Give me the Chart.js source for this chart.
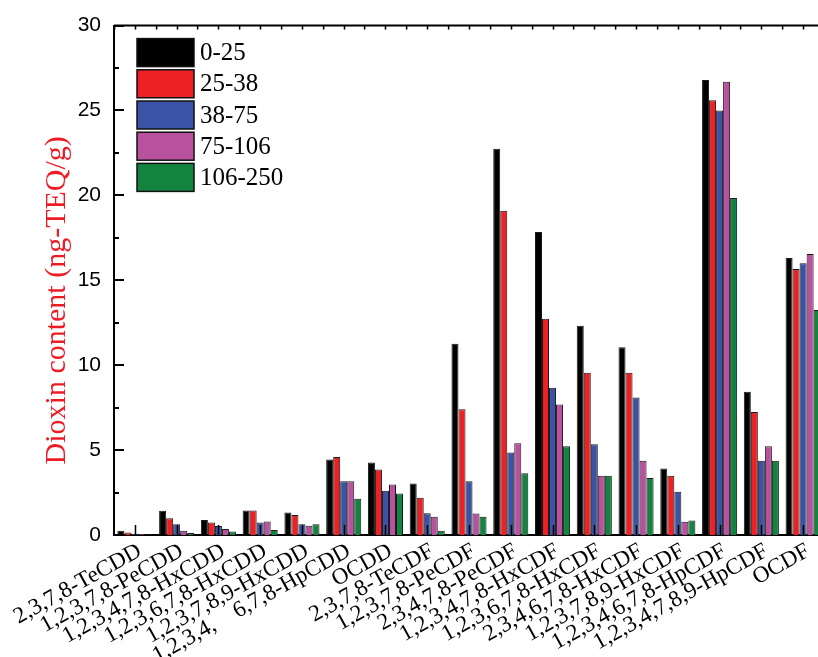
<!DOCTYPE html>
<html>
<head>
<meta charset="utf-8">
<script src="https://cdn.jsdelivr.net/npm/chart.js@4.4.1/dist/chart.umd.min.js"></script>
<style>
    html, body { margin: 0; padding: 0; background: #fff; overflow: hidden; }
    .chart-wrap { position: relative; width: 826px; height: 657px; }
</style>
</head>
<body>
<div class="chart-wrap"><canvas id="dioxinChart"></canvas></div>
<script>
// congeners on the x axis
const congeners = [
    '2,3,7,8-TeCDD', '1,2,3,7,8-PeCDD', '1,2,3,4,7,8-HxCDD', '1,2,3,6,7,8-HxCDD',
    '1,2,3,7,8,9-HxCDD', '1,2,3,4,    6,7,8-HpCDD', 'OCDD', '2,3,7,8-TeCDF',
    '1,2,3,7,8-PeCDF', '2,3,4,7,8-PeCDF', '1,2,3,4,7,8-HxCDF', '1,2,3,6,7,8-HxCDF',
    '2,3,4,6,7,8-HxCDF', '1,2,3,7,8,9-HxCDF', '1,2,3,4,6,7,8-HpCDF', '1,2,3,4,7,8,9-HpCDF',
    'OCDF'
];

// particle size ranges (legend)
const sizeRanges = ['0-25', '25-38', '38-75', '75-106', '106-250'];

// dioxin content, ng-TEQ/g, one array per size range
const range0to25    = [0.25, 1.43, 0.88, 1.45, 1.33, 4.45, 4.27, 3.04, 11.27, 22.75, 17.84, 12.33, 11.06, 3.92, 26.8, 8.43, 16.31];
const range25to38   = [0.15, 0.98, 0.73, 1.45, 1.18, 4.59, 3.86, 2.2, 7.41, 19.1, 12.73, 9.55, 9.55, 3.49, 25.6, 7.25, 15.67];
const range38to75   = [0.08, 0.63, 0.53, 0.73, 0.63, 3.16, 2.61, 1.28, 3.16, 4.86, 8.67, 5.35, 8.1, 2.55, 25.0, 4.37, 16.0];
const range75to106  = [0.06, 0.25, 0.35, 0.8, 0.55, 3.16, 2.98, 1.08, 1.27, 5.41, 7.69, 3.49, 4.37, 0.78, 26.7, 5.22, 16.55];
const range106to250 = [0.03, 0.12, 0.2, 0.3, 0.63, 2.14, 2.45, 0.25, 1.08, 3.63, 5.22, 3.49, 3.35, 0.86, 19.84, 4.37, 13.25];

const yTicks = [0, 5, 10, 15, 20, 25, 30];
const yTitle = 'Dioxin content (ng-TEQ/g)';

const seriesValues = [range0to25, range25to38, range38to75, range75to106, range106to250];
const barColors = ['#000000', '#ed2024', '#3a53a4', '#b8519e', '#13843f'];

const serif = '"Liberation Serif", "Times New Roman", serif';

// axis frame: top line plus inward tick marks like the origin-style plot
const frameTicks = {
    id: 'frameTicks',
    afterDatasetsDraw(chart) {
        const { ctx, chartArea } = chart;
        const x = chart.scales.x;
        const y = chart.scales.y;
        ctx.save();
        ctx.strokeStyle = '#000';
        ctx.lineWidth = 2;
        ctx.beginPath();
        ctx.moveTo(chartArea.left, chartArea.top);
        ctx.lineTo(chartArea.right, chartArea.top);
        ctx.stroke();

        // y major / minor
        for (let v = 0; v <= 30; v += 2.5) {
            const py = Math.round(y.getPixelForValue(v));
            const len = v % 5 === 0 ? 10 : 5;
            ctx.beginPath();
            ctx.moveTo(chartArea.left, py);
            ctx.lineTo(chartArea.left + len, py);
            ctx.stroke();
        }

        // bottom ticks at category centres, top ticks at centres and boundaries
        const half = (x.getPixelForValue(1) - x.getPixelForValue(0)) / 2;
        ctx.lineWidth = 1.5;
        congeners.forEach((c, i) => {
            const px = Math.round(x.getPixelForValue(i)) + 0.5;
            ctx.beginPath();
            ctx.moveTo(px, chartArea.bottom);
            ctx.lineTo(px, chartArea.bottom - 10);
            ctx.stroke();
            [px, px - half].forEach(tx => {
                ctx.beginPath();
                ctx.moveTo(tx, chartArea.top);
                ctx.lineTo(tx, chartArea.top + 4);
                ctx.stroke();
            });
        });
        ctx.restore();
    }
};

// slanted category labels and the red y title, placed by hand
const axisText = {
    id: 'axisText',
    afterDraw(chart) {
        const { ctx, chartArea } = chart;
        const x = chart.scales.x;
        ctx.save();
        ctx.fillStyle = '#000';
        ctx.font = '23px ' + serif;
        ctx.textAlign = 'right';
        ctx.textBaseline = 'alphabetic';
        congeners.forEach((label, i) => {
            ctx.save();
            ctx.translate(x.getPixelForValue(i) + 8, chartArea.bottom + 20);
            ctx.rotate(-29 * Math.PI / 180);
            ctx.fillText(label, 0, 0);
            ctx.restore();
        });

        ctx.fillStyle = '#ed1c24';
        ctx.font = '30px ' + serif;
        ctx.textAlign = 'center';
        ctx.translate(65, (chartArea.top + chartArea.bottom) / 2 + 20);
        ctx.rotate(-Math.PI / 2);
        ctx.fillText(yTitle, 0, 0);
        ctx.restore();
    }
};

// legend boxes inside the plot, top left
const insideLegend = {
    id: 'insideLegend',
    afterDraw(chart) {
        const { ctx, chartArea } = chart;
        const bx = chartArea.left + 23;
        let by = chartArea.top + 13;
        ctx.save();
        ctx.font = '25px ' + serif;
        ctx.textBaseline = 'middle';
        chart.data.datasets.forEach(ds => {
            ctx.fillStyle = ds.backgroundColor;
            ctx.fillRect(bx, by, 57, 28);
            ctx.strokeStyle = '#111';
            ctx.lineWidth = 1.5;
            ctx.strokeRect(bx, by, 57, 28);
            ctx.fillStyle = '#000';
            ctx.fillText(ds.label, bx + 63, by + 15);
            by += 31.2;
        });
        ctx.restore();
    }
};

const datasets = sizeRanges.map((name, i) => ({
    label: name,
    data: seriesValues[i],
    backgroundColor: barColors[i],
    borderColor: '#1a1a1a',
    borderWidth: 1,
    categoryPercentage: 0.84,
    barPercentage: 1.0
}));

new Chart(document.getElementById('dioxinChart'), {
    type: 'bar',
    data: { labels: congeners, datasets: datasets },
    options: {
        responsive: true,
        maintainAspectRatio: false,
        animation: false,
        layout: { padding: { top: 25, right: 2, left: 0, bottom: 0 } },
        plugins: {
            legend: { display: false },
            tooltip: { enabled: false }
        },
        scales: {
            x: {
                grid: { display: false, drawTicks: false },
                border: { display: true, color: '#000', width: 2 },
                ticks: { display: false, autoSkip: false },
                afterFit(scale) { scale.height = 122; }
            },
            y: {
                min: 0,
                max: 30,
                afterBuildTicks(scale) { scale.ticks = yTicks.map(v => ({ value: v })); },
                grid: { display: false, drawTicks: false },
                border: { display: true, color: '#000', width: 2 },
                ticks: {
                    color: '#000',
                    font: { family: '"Liberation Sans", Arial, sans-serif', size: 21 },
                    padding: 13
                },
                afterFit(scale) { scale.width = 114; }
            }
        }
    },
    plugins: [frameTicks, axisText, insideLegend]
});
</script>
</body>
</html>
